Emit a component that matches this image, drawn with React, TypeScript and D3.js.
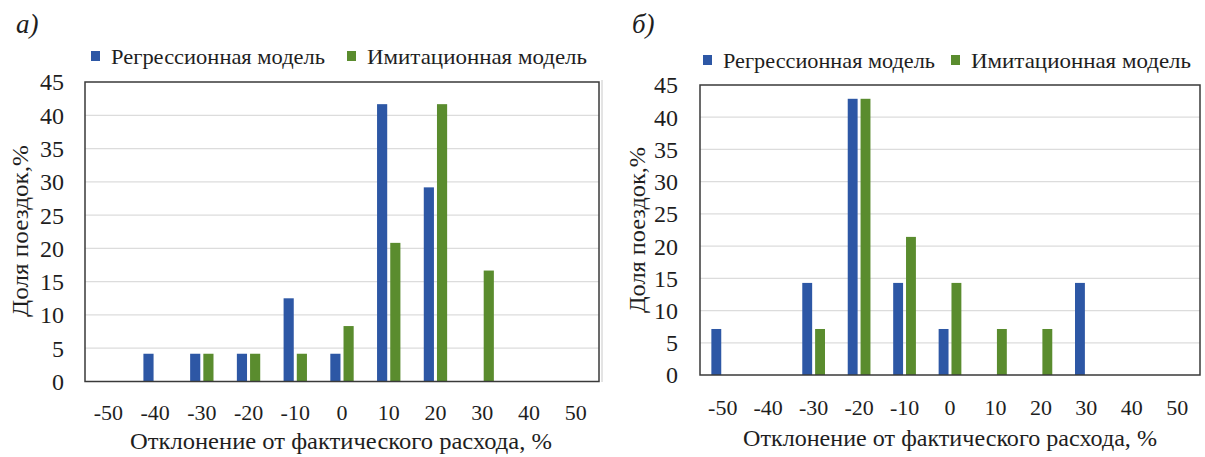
import React from "react";
import * as d3 from "d3";

// deviation bins, %
const categories = [-50, -40, -30, -20, -10, 0, 10, 20, 30, 40, 50];
const yTicks = [0, 5, 10, 15, 20, 25, 30, 35, 40, 45];
const seriesNames = ["Регрессионная модель", "Имитационная модель"];
const seriesColors = ["#2d57a5", "#5a8c2e"];

// panel a)
const regressionA = [0, 4.17, 4.17, 4.17, 12.5, 4.17, 41.67, 29.17, 0, 0, 0];
const imitationA = [0, 0, 4.17, 4.17, 4.17, 8.33, 20.83, 41.67, 16.67, 0, 0];
// panel b)
const regressionB = [7.14, 0, 14.29, 42.86, 14.29, 7.14, 0, 0, 14.29, 0, 0];
const imitationB = [0, 0, 7.14, 42.86, 21.43, 14.29, 7.14, 7.14, 0, 0, 0];

const SERIF = "Liberation Serif";

function T({ size, italic = false, children, ...rest }) {
  return (
    <text
      fontFamily={SERIF}
      fontSize={size}
      fontStyle={italic ? "italic" : "normal"}
      fill="#1e1e1e"
      style={{ fontFamily: SERIF, fontSize: size }}
      {...rest}
    >
      {children}
    </text>
  );
}

function Panel({ label, series, g }) {
  const x = d3
    .scaleBand()
    .domain(categories.map(String))
    .range([g.x0, g.x1])
    .paddingInner(0.5)
    .paddingOuter(0.25);
  const inner = d3
    .scaleBand()
    .domain(["0", "1"])
    .range([0, x.bandwidth()])
    .paddingInner(0.23);
  const y = d3.scaleLinear().domain([0, 45]).range([g.y1, g.y0]);

  return (
    <g>
      <T size={27} italic x={g.labelX} y={g.labelY}>
        {label}
      </T>

      {/* legend */}
      {seriesNames.map((name, i) => (
        <g key={name}>
          <rect x={g.legendSq[i]} y={g.legendY - 5} width={9} height={10} fill={seriesColors[i]} />
          <T
            size={22}
            x={g.legendSq[i] + 20}
            y={g.legendY}
            dy="0.35em"
            textLength={g.legendLen[i]}
            lengthAdjust="spacingAndGlyphs"
          >
            {name}
          </T>
        </g>
      ))}

      {/* grid */}
      {yTicks.slice(1, -1).map((t) => (
        <line key={t} x1={g.x0} x2={g.x1} y1={y(t)} y2={y(t)} stroke="#dcdcdc" strokeWidth={1.3} />
      ))}

      {/* bars */}
      {series.map((vals, si) =>
        vals.map((v, ci) =>
          v > 0 ? (
            <rect
              key={`${si}-${ci}`}
              x={x(String(categories[ci])) + inner(String(si))}
              y={y(v)}
              width={inner.bandwidth()}
              height={y(0) - y(v)}
              fill={seriesColors[si]}
            />
          ) : null
        )
      )}

      <rect x={g.x0} y={g.y0} width={g.x1 - g.x0} height={g.y1 - g.y0} fill="none" stroke="#3a3a3a" strokeWidth={1.5} />

      {/* y ticks */}
      {yTicks.map((t) => (
        <T key={t} size={24} x={g.yTickX} y={y(t)} dy="0.35em" textAnchor="end">
          {t}
        </T>
      ))}
      {/* x ticks */}
      {categories.map((c) => (
        <T key={c} size={22} x={x(String(c)) + x.bandwidth() / 2} y={g.xTickY} dy="0.35em" textAnchor="middle">
          {c}
        </T>
      ))}

      <T
        size={23}
        transform={`translate(${g.yTitleX},${g.yTitleY}) rotate(-90)`}
        dy="0.35em"
        textAnchor="middle"
        textLength={g.yTitleLen}
        lengthAdjust="spacingAndGlyphs"
      >
        Доля поездок,%
      </T>
      <T
        size={23}
        x={g.xTitleX}
        y={g.xTitleY}
        dy="0.35em"
        textAnchor="middle"
        textLength={g.xTitleLen}
        lengthAdjust="spacingAndGlyphs"
      >
        Отклонение от фактического расхода, %
      </T>
    </g>
  );
}

const geomA = {
  x0: 85, x1: 599, y0: 82, y1: 381.5,
  labelX: 16, labelY: 33,
  legendY: 56, legendSq: [91, 347], legendLen: [214, 220],
  yTickX: 64, xTickY: 412,
  yTitleX: 20, yTitleY: 231, yTitleLen: 172,
  xTitleX: 341, xTitleY: 441, xTitleLen: 422,
};

const geomB = {
  x0: 700, x1: 1200, y0: 85, y1: 375,
  labelX: 632, labelY: 33,
  legendY: 60, legendSq: [703, 951], legendLen: [212, 220],
  yTickX: 678, xTickY: 407,
  yTitleX: 637, yTitleY: 230, yTitleLen: 166,
  xTitleX: 950, xTitleY: 438, xTitleLen: 414,
};

export default function App() {
  return (
    <svg
      width={1205}
      height={457}
      style={{ position: "absolute", left: 0, top: 0, background: "#fff", fontFamily: SERIF }}
    >
      <rect width={1205} height={457} fill="#fff" />
      <line x1={602} x2={602} y1={80} y2={382} stroke="#c8c8c8" strokeWidth={1} />
      <Panel label="а)" series={[regressionA, imitationA]} g={geomA} />
      <Panel label="б)" series={[regressionB, imitationB]} g={geomB} />
    </svg>
  );
}
